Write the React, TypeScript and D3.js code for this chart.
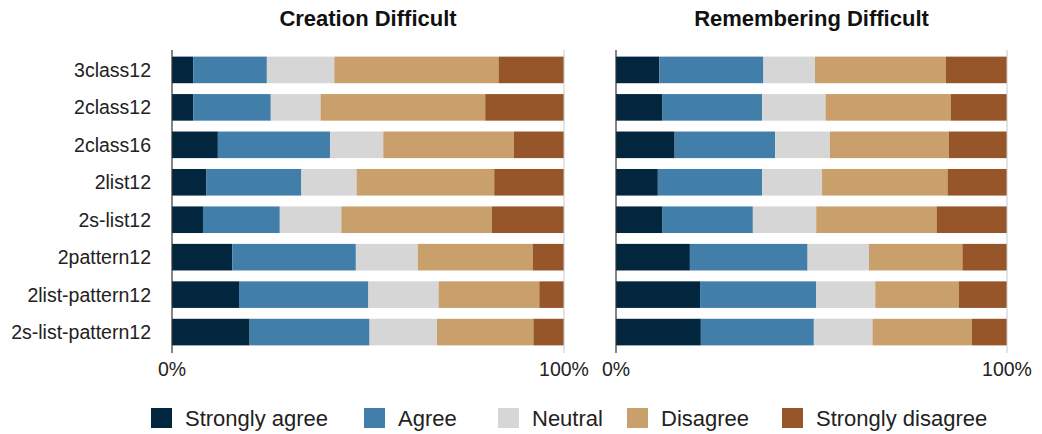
import { useEffect, useRef } from 'react'
import * as d3 from 'd3'

const W = 1042, H = 434
const FONT = 'Liberation Sans, Arial, Helvetica, sans-serif'

const categories = ['3class12', '2class12', '2class16', '2list12', '2s-list12', '2pattern12', '2list-pattern12', '2s-list-pattern12']
const levels = ['Strongly agree', 'Agree', 'Neutral', 'Disagree', 'Strongly disagree']
const colors = ['#03263f', '#417ea9', '#d6d6d6', '#c9a06b', '#97562a']

// percentages per row: SA, A, N, D, SD
const creation = [
  [5.4, 18.8, 17.2, 41.9, 16.7],
  [5.4, 19.8, 12.7, 42.0, 20.1],
  [11.7, 28.6, 13.6, 33.3, 12.8],
  [8.8, 24.2, 14.1, 35.1, 17.8],
  [7.9, 19.6, 15.7, 38.4, 18.4],
  [15.4, 31.5, 15.8, 29.3, 8.0],
  [17.1, 33.0, 17.9, 25.7, 6.3],
  [19.8, 30.6, 17.2, 24.6, 7.8],
]
const remembering = [
  [11.1, 26.6, 13.2, 33.5, 15.6],
  [11.9, 25.5, 16.2, 32.0, 14.4],
  [15.0, 25.7, 14.0, 30.4, 14.9],
  [10.7, 26.7, 15.3, 32.1, 15.2],
  [11.9, 23.1, 16.2, 30.8, 18.0],
  [18.9, 30.1, 15.7, 23.9, 11.4],
  [21.5, 29.7, 15.1, 21.4, 12.3],
  [21.7, 28.9, 15.0, 25.4, 9.0],
]

const panels = [
  { title: 'Creation Difficult', data: creation, x0: 172, x1: 564, labels: true },
  { title: 'Remembering Difficult', data: remembering, x0: 616, x1: 1007, labels: false },
]

export default function App() {
  const svgRef = useRef<SVGSVGElement>(null)

  useEffect(() => {
    const svg = d3.select(svgRef.current!)
    svg.selectAll('*').remove()

    const y = d3.scaleBand<string>().domain(categories).range([51, 351])
      .paddingInner(0.29).paddingOuter(0.15)

    panels.forEach(p => {
      const x = d3.scaleLinear().domain([0, 100]).range([p.x0, p.x1])
      const g = svg.append('g')

      g.append('text').attr('x', (p.x0 + p.x1) / 2).attr('y', 26)
        .attr('text-anchor', 'middle').attr('font-family', FONT)
        .attr('font-weight', 'bold').attr('font-size', 22).attr('fill', '#111')
        .text(p.title)

      p.data.forEach((row, i) => {
        const stack = d3.cumsum(row)
        row.forEach((v, j) => {
          const start = j === 0 ? 0 : stack[j - 1]
          g.append('rect')
            .attr('x', x(start)).attr('width', x(start + v) - x(start))
            .attr('y', y(categories[i])!).attr('height', y.bandwidth())
            .attr('fill', colors[j])
        })
      })

      // 100% line (light) and 0% axis (dark)
      g.append('line').attr('x1', x(100)).attr('x2', x(100)).attr('y1', 50).attr('y2', 353)
        .attr('stroke', '#c8c8c8').attr('stroke-width', 1)
      g.append('line').attr('x1', x(0)).attr('x2', x(0)).attr('y1', 50).attr('y2', 353)
        .attr('stroke', '#333').attr('stroke-width', 1.2)

      ;[0, 100].forEach(t => {
        g.append('text').attr('x', x(t)).attr('y', 376).attr('text-anchor', 'middle')
          .attr('font-family', FONT).attr('font-size', 19.5).attr('fill', '#222')
          .text(`${t}%`)
      })

      if (p.labels) {
        categories.forEach(c => {
          g.append('text').attr('x', 151).attr('y', y(c)! + y.bandwidth() / 2)
            .attr('dominant-baseline', 'central').attr('text-anchor', 'end')
            .attr('font-family', FONT).attr('font-size', 19.5).attr('fill', '#222')
            .text(c)
        })
      }
    })

    // Legend
    const legendX = [151, 364, 498, 627, 782]
    const lg = svg.append('g')
    levels.forEach((l, i) => {
      lg.append('rect').attr('x', legendX[i]).attr('y', 408).attr('width', 21).attr('height', 20)
        .attr('fill', colors[i])
      lg.append('text').attr('x', legendX[i] + 34).attr('y', 426)
        .attr('font-family', FONT).attr('font-size', 22).attr('fill', '#222')
        .text(l)
    })
  }, [])

  return (
    <svg ref={svgRef} width={W} height={H} viewBox={`0 0 ${W} ${H}`}
      style={{ position: 'absolute', left: 0, top: 0, background: '#fff' }} />
  )
}
